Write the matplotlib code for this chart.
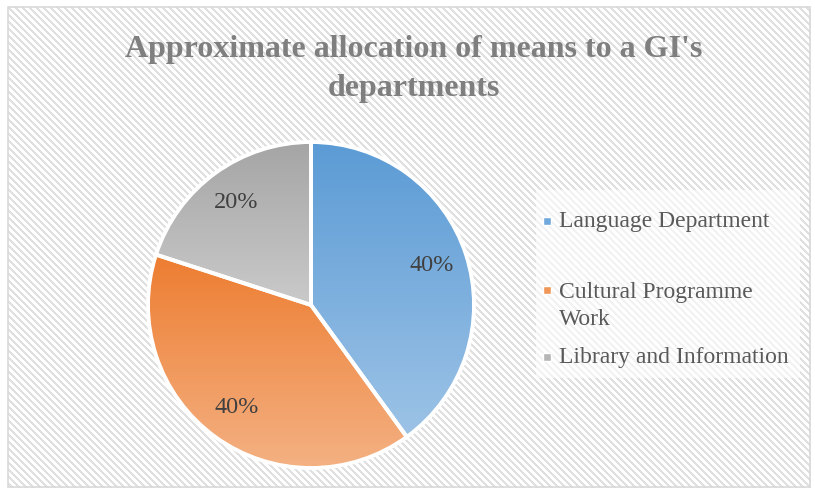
import numpy as np
import matplotlib
matplotlib.use("Agg")
import matplotlib.pyplot as plt
from matplotlib.colors import LinearSegmentedColormap
from matplotlib.patches import Rectangle

categories = ["Language Department", "Cultural Programme\nWork", "Library and Information"]
shares = [40, 40, 20]
title = "Approximate allocation of means to a GI's\ndepartments"

# top / bottom colours of each slice's vertical gradient
grad_top = ["#5B9BD5", "#ED7D31", "#A5A5A5"]
grad_bottom = ["#9DC3E6", "#F4B183", "#CACACA"]
legend_swatch = ["#72A9DC", "#F09657", "#B5B5B5"]

W, H = 815, 497
fig = plt.figure(figsize=(W / 100, H / 100), dpi=100)
plt.rcParams["font.family"] = ["Liberation Serif", "DejaVu Serif"]

# striped chart-area background
bg = fig.add_axes([0, 0, 1, 1])
yy, xx = np.mgrid[0:H, 0:W]
stripes = ((xx - yy) % 7) < 3
img = np.where(stripes[..., None], np.array([0.88, 0.88, 0.88]), np.array([1.0, 1.0, 1.0]))
border = (xx < 8) | (xx > 810) | (yy < 7) | (yy > 487)
img[border] = 1.0
bg.imshow(img, extent=(0, W, H, 0), interpolation="nearest", aspect="auto")
bg.add_patch(Rectangle((8, 7), 802, 480, fill=False, edgecolor="#D9D9D9", lw=1.2))
bg.set_xlim(0, W)
bg.set_ylim(H, 0)
bg.axis("off")

# legend backdrop
bg.add_patch(Rectangle((536, 190), 264, 188, facecolor="white", alpha=0.6, edgecolor="none"))

# pie
cx, cy, r = 311, 305, 163
half = 175
ax = fig.add_axes([(cx - half) / W, (H - cy - half) / H, 2 * half / W, 2 * half / H])
lim = half / r
wedges, texts, autotexts = ax.pie(
    shares, startangle=90, counterclock=False, radius=1,
    colors=grad_top, autopct="%.0f%%", pctdistance=0.78,
    wedgeprops=dict(edgecolor="white", linewidth=2.8),
    textprops=dict(fontsize=17.5, color="#404040"),
)
ax.set_xlim(-lim, lim)
ax.set_ylim(-lim, lim)
ax.set_aspect("equal")
ax.axis("off")

for w, c0, c1 in zip(wedges, grad_top, grad_bottom):
    verts = w.get_path().vertices
    x0, x1 = verts[:, 0].min(), verts[:, 0].max()
    y0, y1 = verts[:, 1].min(), verts[:, 1].max()
    cmap = LinearSegmentedColormap.from_list("g", [c1, c0])
    grad = np.linspace(0, 1, 256).reshape(-1, 1)
    im = ax.imshow(grad, extent=(x0, x1, y0, y1), origin="lower", cmap=cmap,
                   aspect="auto", zorder=w.get_zorder() + 0.1, interpolation="bilinear")
    im.set_clip_path(w)
    w.set_facecolor("none")
    w.set_zorder(w.get_zorder() + 0.2)
for t in autotexts:
    t.set_zorder(5)
ax.set_xlim(-lim, lim)
ax.set_ylim(-lim, lim)

# title
fig.text(414 / W, 1 - 69 / H, title, ha="center", va="center", fontsize=23,
         fontweight="bold", color="#7F7F7F", linespacing=1.42)

# legend
leg_x = 559
leg_rows = [(222, 0), (306, 1), (358, 2)]
for (ty, i) in leg_rows:
    fig.text(leg_x / W, 1 - ty / H, categories[i], ha="left", va="center",
             fontsize=17, color="#595959", linespacing=1.35)
for (my, i) in [(221, 0), (290, 1), (357, 2)]:
    bg.add_patch(Rectangle((543, my - 4), 8, 8, facecolor=legend_swatch[i],
                           edgecolor="white", lw=1.0))

fig.savefig("out.png", dpi=100)
